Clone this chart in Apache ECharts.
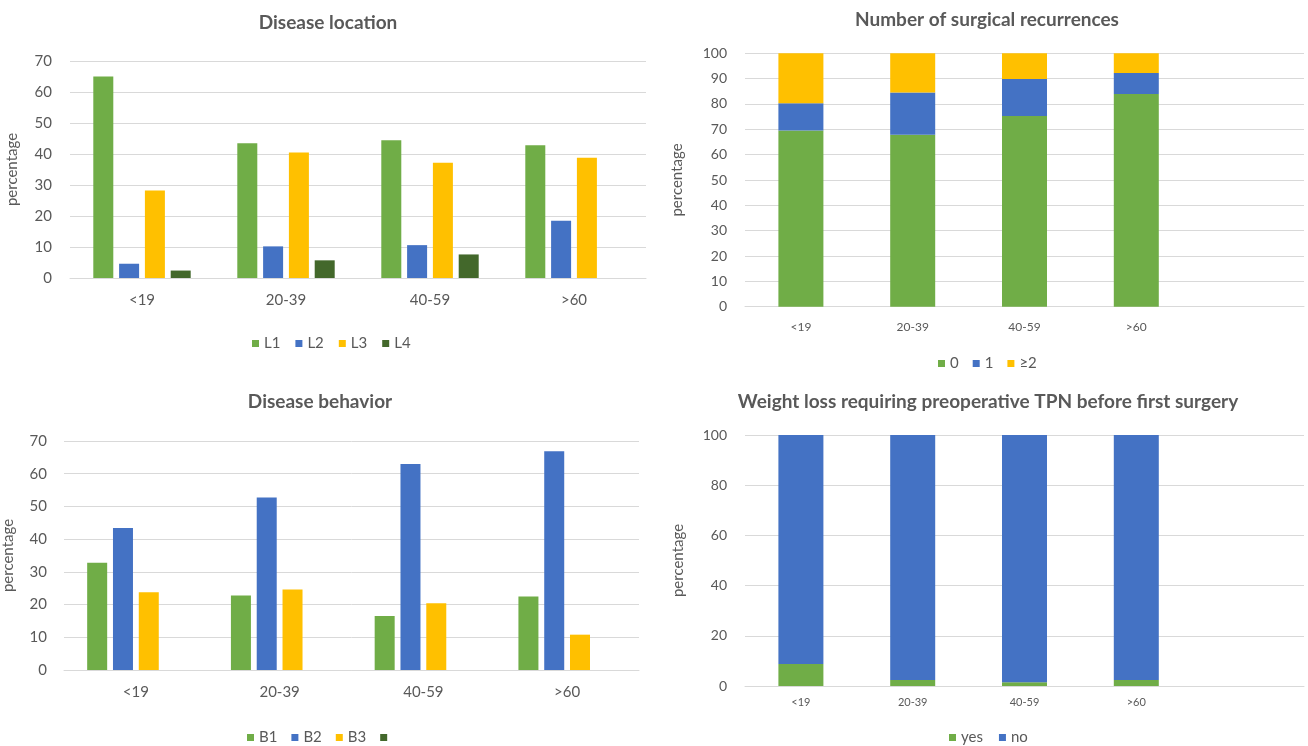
<!DOCTYPE html>
<html>
<head>
<meta charset="utf-8">
<script src="https://cdn.jsdelivr.net/npm/echarts@6/dist/echarts.min.js"></script>
<style>
html,body{margin:0;padding:0;background:#fff;}
#c{width:1308px;height:746px;}
</style>
</head>
<body>
<div id="c"></div>
<script>
// ---- data ----
const ageGroups = ['<19', '20-39', '40-59', '>60'];
const rightCategories = ['<19', '20-39', '40-59', '>60', ''];

const locL1 = [65.0, 43.5, 44.4, 42.8];
const locL2 = [4.6, 10.2, 10.6, 18.5];
const locL3 = [28.2, 40.5, 37.2, 38.8];
const locL4 = [2.4, 5.7, 7.6, null];

const recur0 = [69.5, 67.9, 75.3, 83.9];
const recur1 = [10.8, 16.6, 14.6, 8.3];
const recur2 = [19.7, 15.5, 10.1, 7.8];

const behB1 = [32.8, 22.8, 16.5, 22.5];
const behB2 = [43.4, 52.7, 63.0, 66.9];
const behB3 = [23.8, 24.6, 20.4, 10.8];
const behB4 = [null, null, null, null];

const tpnYes = [8.8, 2.4, 1.5, 2.4];
const tpnNo = [91.2, 97.6, 98.5, 97.6];

const titles = ['Disease location', 'Number of surgical recurrences', 'Disease behavior', 'Weight loss requiring preoperative TPN before first surgery'];
const yName = 'percentage';

// ---- style ----
const FONT = 'Lato, "Open Sans", sans-serif';
const TXT = '#595959';
const GRIDC = '#D9D9D9';
const GREEN = '#70AD47', BLUE = '#4472C4', YELLOW = '#FFC000', DKGREEN = '#43682B';

const chart = echarts.init(document.getElementById('c'), null, {renderer: 'canvas'});

function xAx(gi, cats, fs, margin) {
  return {
    type: 'category', gridIndex: gi, data: cats,
    axisLine: {show: true, lineStyle: {color: GRIDC, width: 1}},
    axisTick: {show: false},
    axisLabel: {color: TXT, fontSize: fs, fontFamily: FONT, margin: margin, interval: 0}
  };
}
function yAx(gi, max, interval, fs, margin, nameGap) {
  return {
    type: 'value', gridIndex: gi, min: 0, max: max, interval: interval,
    name: yName, nameLocation: 'middle', nameRotate: 90, nameGap: nameGap,
    nameTextStyle: {color: TXT, fontSize: 15, fontFamily: FONT},
    axisLine: {show: false}, axisTick: {show: false},
    splitLine: {show: true, lineStyle: {color: GRIDC, width: 1}},
    axisLabel: {color: TXT, fontSize: fs, fontFamily: FONT, margin: margin}
  };
}
function bar(name, data, color, gi, extra) {
  return Object.assign({
    type: 'bar', name: name, data: data, xAxisIndex: gi, yAxisIndex: gi,
    itemStyle: {color: color}, emphasis: {disabled: true}
  }, extra || {});
}
function legend(names, left, top, gap) {
  return {
    data: names, left: left, top: top, padding: 0, itemWidth: 7, itemHeight: 7, itemGap: gap,
    icon: 'rect', selectedMode: false,
    textStyle: {color: TXT, fontSize: 15, fontFamily: FONT}
  };
}
function title(text, cx, top) {
  return {
    text: text, left: cx, top: top, padding: 0, textAlign: 'center',
    textStyle: {color: TXT, fontSize: 19, fontWeight: 'bold', fontFamily: FONT}
  };
}

const groupedOpts = {barWidth: 20, barGap: '29%'};

const option = {
  animation: false,
  backgroundColor: '#fff',
  title: [
    title(titles[0], 328, 13),
    title(titles[1], 987, 10),
    title(titles[2], 320, 392),
    title(titles[3], 988, 392)
  ],
  grid: [
    {left: 70, top: 61, width: 576, height: 217, containLabel: false},
    {left: 745, top: 53.3, width: 559, height: 253.4, containLabel: false},
    {left: 64, top: 441, width: 575, height: 229, containLabel: false},
    {left: 745, top: 435, width: 559, height: 251, containLabel: false}
  ],
  xAxis: [
    xAx(0, ageGroups, 15, 15),
    xAx(1, rightCategories, 12, 14),
    xAx(2, ageGroups, 15, 15),
    xAx(3, rightCategories, 11, 11)
  ],
  yAxis: [
    yAx(0, 70, 10, 15, 18, 50),
    yAx(1, 100, 10, 14, 18, 60),
    yAx(2, 70, 10, 15, 17, 48),
    yAx(3, 100, 20, 14, 18, 59)
  ],
  legend: [
    legend(['L1', 'L2', 'L3', 'L4'], 252, 336, 15),
    legend(['0', '1', '≥2'], 938, 356, 14),
    legend(['B1', 'B2', 'B3', ' '], 247, 730, 14),
    legend(['yes', 'no'], 949, 730, 16)
  ],
  series: [
    bar('L1', locL1, GREEN, 0, groupedOpts),
    bar('L2', locL2, BLUE, 0, groupedOpts),
    bar('L3', locL3, YELLOW, 0, groupedOpts),
    bar('L4', locL4, DKGREEN, 0, groupedOpts),

    bar('0', recur0, GREEN, 1, {stack: 'r', barWidth: 45}),
    bar('1', recur1, BLUE, 1, {stack: 'r', barWidth: 45}),
    bar('≥2', recur2, YELLOW, 1, {stack: 'r', barWidth: 45}),

    bar('B1', behB1, GREEN, 2, groupedOpts),
    bar('B2', behB2, BLUE, 2, groupedOpts),
    bar('B3', behB3, YELLOW, 2, groupedOpts),
    bar(' ', behB4, DKGREEN, 2, groupedOpts),

    bar('yes', tpnYes, GREEN, 3, {stack: 't', barWidth: 45}),
    bar('no', tpnNo, BLUE, 3, {stack: 't', barWidth: 45})
  ]
};
chart.setOption(option);
</script>
</body>
</html>
